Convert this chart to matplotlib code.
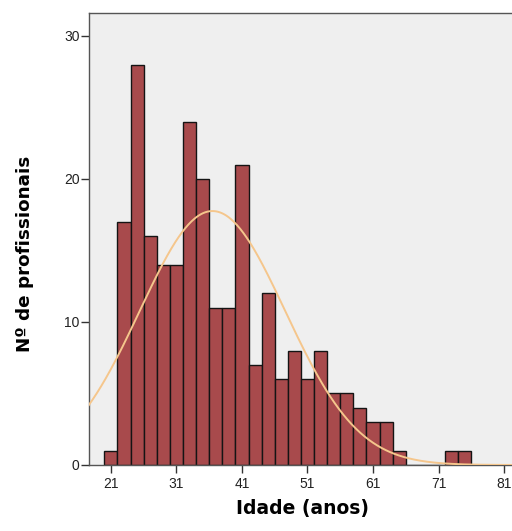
import numpy as np
import matplotlib
matplotlib.use("Agg")
import matplotlib.pyplot as plt

# age bins (2 years wide, centred on odd ages) and counts
bin_centers = [21, 23, 25, 27, 29, 31, 33, 35, 37, 39, 41, 43, 45, 47,
               49, 51, 53, 55, 57, 59, 61, 63, 65, 67, 69, 71, 73, 75]
counts = [1, 17, 28, 16, 14, 14, 24, 20, 11, 11, 21, 7, 12, 6,
          8, 6, 8, 5, 5, 4, 3, 3, 1, 0, 0, 0, 1, 1]
x_ticks = [21, 31, 41, 51, 61, 71, 81]
y_ticks = [0, 10, 20, 30]

# normal curve parameters
mean_age = 36.5
sd_age = 11.1
bin_w = 2

fig = plt.figure(figsize=(5.12, 5.31), dpi=100)
ax = fig.add_axes([0.173, 0.1243, 0.827, 0.8512])
ax.set_facecolor("#efefef")

ax.bar(bin_centers, counts, width=bin_w, color="#a84a4c",
       edgecolor="#141414", linewidth=1.0, zorder=2)

n = sum(counts)
xs = np.linspace(17.6, 82.2, 400)
pdf = np.exp(-0.5 * ((xs - mean_age) / sd_age) ** 2) / (sd_age * np.sqrt(2 * np.pi))
ax.plot(xs, n * bin_w * pdf, color="#f5c68c", linewidth=1.4, zorder=3)

ax.set_xlim(17.6, 82.2)
ax.set_ylim(0, 31.6)
ax.set_xticks(x_ticks)
ax.set_yticks(y_ticks)
ax.tick_params(direction="out", length=5.5, width=1, colors="#333333",
               labelsize=10, labelcolor="#222222")
ax.tick_params(axis="y", pad=1)
ax.tick_params(axis="x", pad=3)
for lbl in ax.get_xticklabels() + ax.get_yticklabels():
    lbl.set_family("Liberation Sans")

for s in ["left", "top", "bottom"]:
    ax.spines[s].set_color("#555555")
    ax.spines[s].set_linewidth(1.0)
ax.spines["right"].set_visible(False)

fig.text(0.591, 0.025, "Idade (anos)", ha="center", va="bottom",
         fontsize=13.5, fontweight="bold", family="DejaVu Sans", color="#000000")
fig.text(0.048, 0.522, "Nº de profissionais", ha="center", va="center",
         rotation=90, fontsize=13.2, fontweight="bold", family="DejaVu Sans",
         color="#000000")

fig.savefig("out.png", dpi=100)
